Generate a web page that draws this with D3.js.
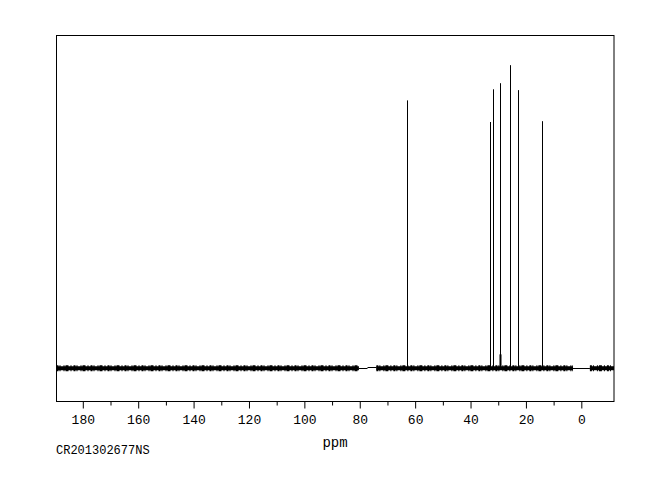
<!DOCTYPE html>
<html><head><meta charset="utf-8">
<script src="https://cdn.jsdelivr.net/npm/d3@7"></script>
<style>body{margin:0;background:#fff}svg{display:block}</style>
</head><body>
<svg id="c" width="664" height="487"></svg>
<script>
// Peak positions (ppm) and heights (relative intensity)
const peakPpm = [63.1, 32.8, 31.9, 29.5, 29.3, 25.7, 22.7, 14.1];
const peakHeight = [96.6, 88.8, 100.6, 5.0, 102.8, 109.3, 100.3, 89.1];
// Baseline segments: [fromPpm, toPpm, level, noisy?]
const baseFrom = [189.5, 80.3, 77.2, 74.0, 3.0, -3.1];
const baseTo = [80.3, 77.2, 74.0, 3.0, -3.1, -11.8];
const baseLevel = [0, 0, 0.45, 0, 0, 0];
const baseNoisy = [true, false, false, true, false, true];
const tickMajor = [180, 160, 140, 120, 100, 80, 60, 40, 20, 0];
const tickMinor = [170, 150, 130, 110, 90, 70, 50, 30, 10];
const xTitle = "ppm";
const sampleId = "CR201302677NS";

const svg = d3.select("#c");
const L = 56.5, R = 614, T = 35.5, B = 401.5;
const x = d3.scaleLinear().domain([189.5, -11.8]).range([L, R]);
const y = d3.scaleLinear().domain([-12, 120]).range([B, T]);
const font = "'Liberation Mono','Courier New',monospace";

// frame
svg.append("rect").attr("x", L).attr("y", T).attr("width", R - L).attr("height", B - T)
  .attr("fill", "none").attr("stroke", "#000").attr("stroke-width", 1);

// baseline segments
baseFrom.forEach((f, i) => {
  const yy = y(baseLevel[i]);
  if (baseNoisy[i]) {
    svg.append("line").attr("x1", x(f)).attr("x2", x(baseTo[i]))
      .attr("y1", yy).attr("y2", yy)
      .attr("stroke", "#000").attr("stroke-width", 6).attr("stroke-dasharray", "2,1,1,3,1,1,3,2,1,2");
    svg.append("line").attr("x1", x(f)).attr("x2", x(baseTo[i]))
      .attr("y1", yy).attr("y2", yy)
      .attr("stroke", "#000").attr("stroke-width", 4);
  } else {
    svg.append("line").attr("x1", x(f)).attr("x2", x(baseTo[i]))
      .attr("y1", Math.round(yy) + 0.5).attr("y2", Math.round(yy) + 0.5)
      .attr("stroke", "#000").attr("stroke-width", 1);
  }
});

// peaks
peakPpm.forEach((p, i) => {
  const px = Math.round(x(p)) + 0.5;
  svg.append("line").attr("x1", px).attr("x2", px)
    .attr("y1", y(0)).attr("y2", y(peakHeight[i]))
    .attr("stroke", "#000").attr("stroke-width", i === 3 ? 2 : 1);
});

// axis
const ax = svg.append("g").attr("transform", `translate(0,${B})`);
ax.call(d3.axisBottom(x).tickValues(tickMajor).tickSize(7).tickPadding(6).tickFormat(d3.format("d")))
  .call(g => g.select(".domain").remove());
ax.selectAll("text").attr("font-family", font).attr("font-size", 13).attr("fill", "#000");
ax.selectAll("line").attr("stroke", "#000");
const ax2 = svg.append("g").attr("transform", `translate(0,${B})`);
ax2.call(d3.axisBottom(x).tickValues(tickMinor).tickSize(4).tickFormat(""))
  .call(g => g.select(".domain").remove());
ax2.selectAll("line").attr("stroke", "#000");

svg.append("text").attr("x", 335).attr("y", 447).attr("text-anchor", "middle")
  .attr("font-family", font).attr("font-size", 14).text(xTitle);
svg.append("text").attr("x", 56).attr("y", 454).attr("font-family", font)
  .attr("font-size", 12).text(sampleId);
</script>
</body></html>
